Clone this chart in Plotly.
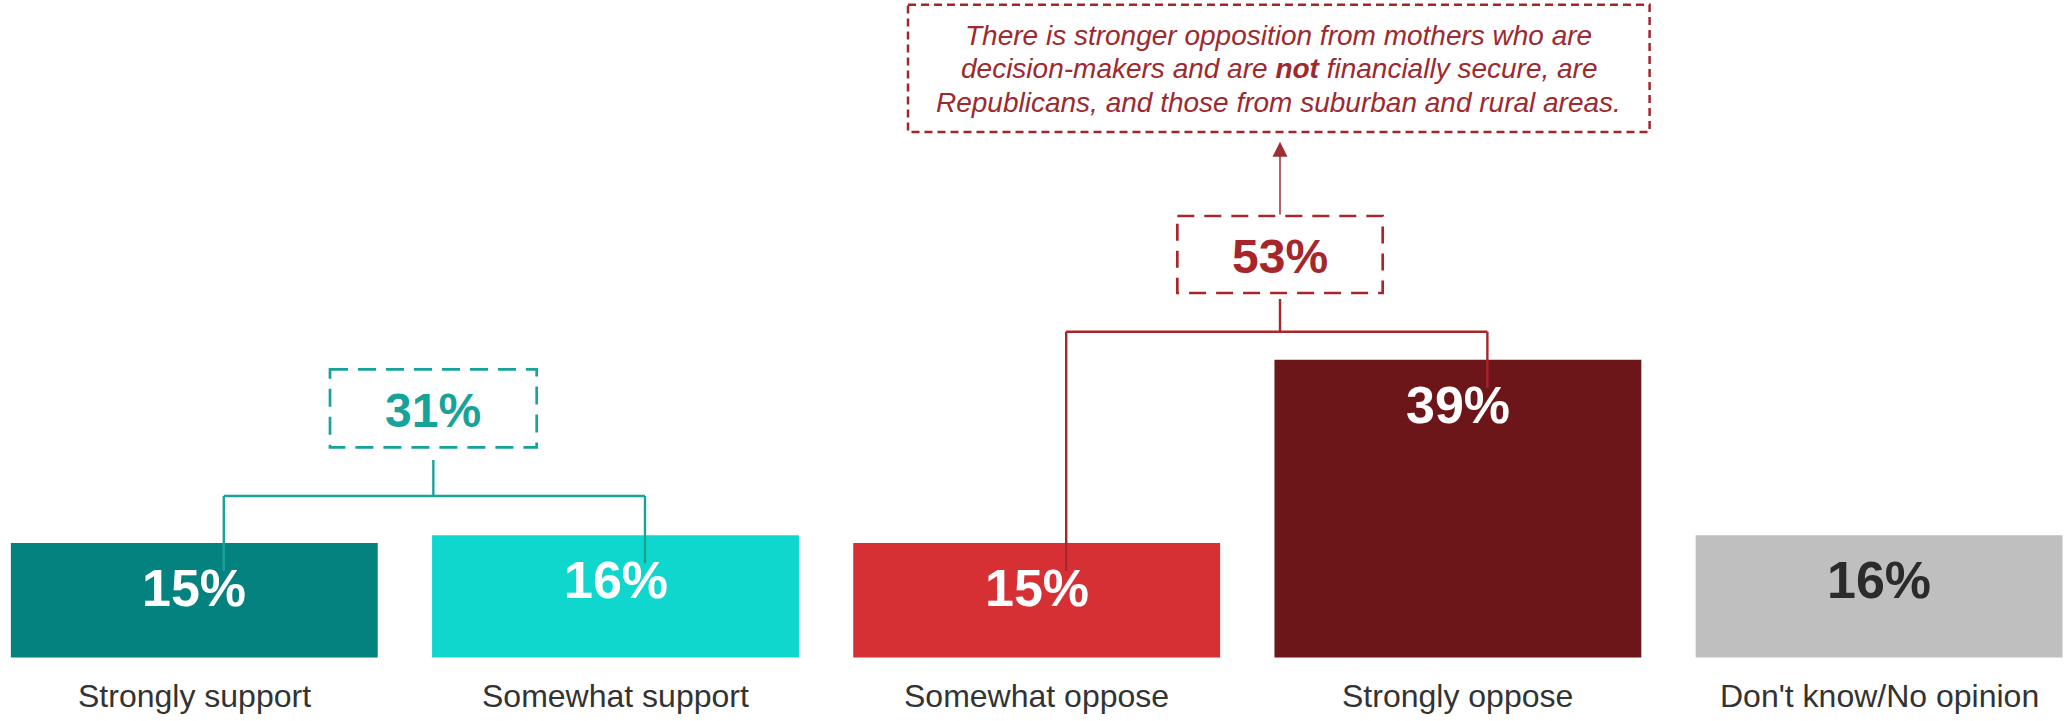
import plotly.graph_objects as go

# ---- data ----
categories = ["Strongly support", "Somewhat support", "Somewhat oppose",
              "Strongly oppose", "Don't know/No opinion"]
values = [15, 16, 15, 39, 16]
bar_colors = ["#03827F", "#10D7CD", "#D63035", "#6D161A", "#BFBFBF"]
value_text_colors = ["#FFFFFF", "#FFFFFF", "#FFFFFF", "#FFFFFF", "#2B2B2B"]

group_members = [[0, 1], [2, 3]]
group_totals = [31, 53]
group_colors = ["#17A39A", "#A6262B"]

note_lines = [
    "There is stronger opposition from mothers who are",
    "decision-makers and are <b>not</b> financially secure, are",
    "Republicans, and those from suburban and rural areas.",
]
note_color = "#9C2A2F"

# ---- canvas / axis geometry ----
W, H = 2064, 721
X0, X1 = -0.4613, 4.4390
Y0, Y1 = -8.32, 86.12
FONT = "Liberation Sans, Arial, sans-serif"


def dx(px):
    """pixel column -> x data"""
    return X0 + px * (X1 - X0) / W


def dy(py):
    """pixel row -> y data"""
    return Y1 - py * (Y1 - Y0) / H


UNIT_PX = H / (Y1 - Y0)

fig = go.Figure(
    go.Bar(
        x=list(range(len(categories))),
        y=values,
        width=0.871,
        marker=dict(color=bar_colors, line=dict(width=0)),
        hoverinfo="skip",
    )
)

annotations = []
shapes = []

# value labels inside the bars and category names below them
for i, (cat, v) in enumerate(zip(categories, values)):
    annotations.append(dict(
        x=i, y=v, xref="x", yref="y", yshift=-45, yanchor="middle",
        text=f"<b>{v}%</b>", showarrow=False,
        font=dict(family=FONT, size=52, color=value_text_colors[i]),
    ))
    annotations.append(dict(
        x=i, y=0, xref="x", yref="y", yshift=-38.5, yanchor="middle",
        text=cat, showarrow=False,
        font=dict(family=FONT, size=32, color="#333333"),
    ))

# group brackets with dashed total boxes
bracket_rows = [496, 331.7]          # horizontal bracket line (px)
stem_tops = [460, 299]               # stem top (px)
boxes = [(330, 369.3, 536.7, 447.3), (1177.3, 216, 1382.7, 293)]
box_dash = ["18px,10px", "17px,10px"]
leg_offset = 0.07
leg_gap = 28 / UNIT_PX

for g, members in enumerate(group_members):
    col = group_colors[g]
    row = dy(bracket_rows[g])
    legs = [m + leg_offset for m in members]
    bx0, by0, bx1, by1 = boxes[g]
    cx = (bx0 + bx1) / 2
    line = dict(color=col, width=2.4)
    shapes.append(dict(type="line", xref="x", yref="y",
                       x0=legs[0], x1=legs[1], y0=row, y1=row, line=line))
    for m, lx in zip(members, legs):
        shapes.append(dict(type="line", xref="x", yref="y",
                           x0=lx, x1=lx, y0=row, y1=values[m] - leg_gap,
                           line=line))
    shapes.append(dict(type="line", xref="x", yref="y",
                       x0=dx(cx), x1=dx(cx), y0=row, y1=dy(stem_tops[g]),
                       line=line))
    shapes.append(dict(type="rect", xref="x", yref="y",
                       x0=dx(bx0), x1=dx(bx1), y0=dy(by0), y1=dy(by1),
                       line=dict(color=col, width=2.7, dash=box_dash[g]),
                       fillcolor="rgba(0,0,0,0)"))
    annotations.append(dict(
        x=dx(cx), y=dy((by0 + by1) / 2 + 2), xref="x", yref="y",
        yanchor="middle", text=f"<b>{group_totals[g]}%</b>", showarrow=False,
        font=dict(family=FONT, size=48, color=col),
    ))

# note box with arrow from the opposition total
note_box = (908, 4.7, 1649.6, 132)
note_cx = (note_box[0] + note_box[2]) / 2
shapes.append(dict(type="rect", xref="x", yref="y",
                   x0=dx(note_box[0]), x1=dx(note_box[2]),
                   y0=dy(note_box[1]), y1=dy(note_box[3]),
                   line=dict(color="#A0282D", width=2.5, dash="8px,5px"),
                   fillcolor="rgba(0,0,0,0)"))
for text, row in zip(note_lines, [35, 68.5, 102]):
    annotations.append(dict(
        x=dx(note_cx), y=dy(row), xref="x", yref="y", yanchor="middle",
        text=f"<i>{text}</i>", showarrow=False,
        font=dict(family=FONT, size=28, color=note_color),
    ))

arrow_x = (boxes[1][0] + boxes[1][2]) / 2
annotations.append(dict(
    x=dx(arrow_x), y=dy(141.7), xref="x", yref="y",
    ax=0, ay=216 - 141.7, text="", showarrow=True,
    arrowhead=2, arrowsize=2, arrowwidth=1.5, arrowcolor="#9E3035",
    standoff=0, startstandoff=0,
))

fig.update_layout(
    width=W, height=H,
    margin=dict(l=0, r=0, t=0, b=0),
    paper_bgcolor="white", plot_bgcolor="white",
    showlegend=False,
    xaxis=dict(range=[X0, X1], visible=False, fixedrange=True),
    yaxis=dict(range=[Y0, Y1], visible=False, fixedrange=True),
    shapes=shapes, annotations=annotations,
    font=dict(family=FONT),
)

fig.write_html("out.html", config={"displayModeBar": False})
